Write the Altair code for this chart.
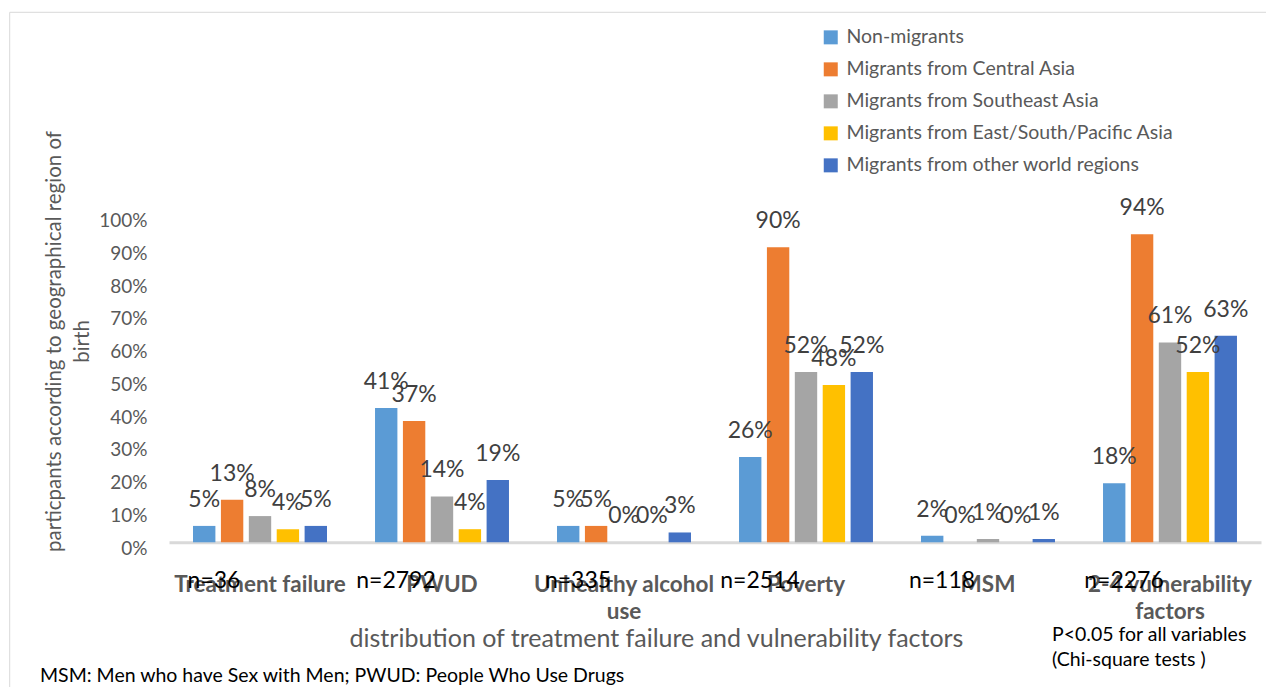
import altair as alt
import pandas as pd

# ---------------- data ----------------
categories = ["Treatment failure", "PWUD", "Unhealthy alcohol use", "Poverty", "MSM",
              "2-4 vulnerability factors"]
regions = ["Non-migrants", "Migrants from Central Asia", "Migrants from Southeast Asia",
           "Migrants from East/South/Pacific Asia", "Migrants from other world regions"]
non_migrants = [0.05, 0.41, 0.05, 0.26, 0.02, 0.18]
central_asia = [0.13, 0.37, 0.05, 0.90, 0.00, 0.94]
southeast_asia = [0.08, 0.14, 0.00, 0.52, 0.01, 0.61]
east_south_pacific = [0.04, 0.04, 0.00, 0.48, 0.00, 0.52]
other_regions = [0.05, 0.19, 0.03, 0.52, 0.01, 0.63]
n_labels = ["n=36", "n=2792", "n=335", "n=2514", "n=118", "n=2276"]
y_ticks = [0, 0.1, 0.2, 0.3, 0.4, 0.5, 0.6, 0.7, 0.8, 0.9, 1.0]
colors = ["#5B9BD5", "#ED7D31", "#A5A5A5", "#FFC000", "#4472C4"]
y_title = ["particpants according to geographical region of", "birth"]
x_title = "distribution of treatment failure and vulnerability factors"
note_abbrev = "MSM: Men who have Sex with Men; PWUD: People Who Use Drugs"
note_p = "P<0.05 for all variables"
note_test = "(Chi-square tests )"

series = [non_migrants, central_asia, southeast_asia, east_south_pacific, other_regions]
rows = []
for reg, vals in zip(regions, series):
    for cat, v in zip(categories, vals):
        rows.append({"Category": cat, "Region": reg, "Value": v})
df = pd.DataFrame(rows)
df_n = pd.DataFrame({"Category": categories, "N": n_labels})

FONT = "Lato"
GREY_TXT = "#595959"

label_expr = ("datum.label == 'Unhealthy alcohol use' ? ['Unhealthy alcohol', 'use'] : "
              "datum.label == '2-4 vulnerability factors' ? ['2-4 vulnerability', 'factors'] : datum.label")

x_scale = alt.Scale(paddingInner=0.264, paddingOuter=0.132)
xo_scale = alt.Scale(paddingInner=0.198, paddingOuter=0)
y_scale = alt.Scale(domain=[0, 1], nice=False)

x_axis = alt.Axis(title=x_title, labelAngle=0, labelExpr=label_expr,
                  labelFontWeight="bold", labelFontSize=22.5, labelColor=GREY_TXT,
                  labelPadding=31, labelLineHeight=27, labelLimit=400, labelOverlap=False,
                  ticks=False, tickSize=0, domainColor="#D9D9D9", domainWidth=3,
                  titleFontSize=25, titleColor=GREY_TXT, titleFontWeight="normal",
                  titleX=487, titleY=96.5, titleAlign="center", titleBaseline="middle")
y_axis = alt.Axis(values=y_ticks, format=".0%", grid=False, domain=False, ticks=False,
                  labelOverlap=False,
                  labelFontSize=19, labelColor=GREY_TXT, labelPadding=22, labelOffset=6,
                  title=y_title, titleFontSize=20.5, titleColor=GREY_TXT,
                  titleFontWeight="normal", titleAngle=270, titleX=-124.5, titleY=126.4,
                  titleAlign="center", titleBaseline="top", titleLineHeight=28)

x_enc = alt.X("Category:N", sort=categories, scale=x_scale, axis=x_axis)
xo_enc = alt.XOffset("Region:N", sort=regions, scale=xo_scale)
y_enc = alt.Y("Value:Q", scale=y_scale, axis=y_axis)

bars = alt.Chart(df).mark_bar().encode(
    x=x_enc, xOffset=xo_enc, y=y_enc,
    color=alt.Color("Region:N", sort=regions,
                    scale=alt.Scale(domain=regions, range=colors),
                    legend=alt.Legend(title=None, orient="none", legendX=652, legendY=-187,
                                      symbolType="square", symbolSize=196, symbolStrokeWidth=0,
                                      labelFontSize=19.5, labelColor=GREY_TXT, labelOffset=6,
                                      rowPadding=11, labelLimit=500, padding=0, offset=0)),
)

value_labels = alt.Chart(df).mark_text(dy=-26, baseline="middle", fontSize=23, color="#404040").encode(
    x=x_enc, xOffset=xo_enc, y=y_enc,
    text=alt.Text("Value:Q", format=".0%"),
)

n_text = alt.Chart(df_n).mark_text(dx=-46, baseline="middle", fontSize=23, color="#000000").encode(
    x=x_enc,
    y=alt.value(366.4),
    text="N:N",
)

dummy = pd.DataFrame({"k": [0]})
frame_left = alt.Chart(dummy).mark_rule(color="#D9D9D9", strokeWidth=1).encode(
    x=alt.value(-159.3), y=alt.value(-202.3), y2=alt.value(500))
frame_top = alt.Chart(dummy).mark_rule(color="#D9D9D9", strokeWidth=1).encode(
    x=alt.value(-159.3), x2=alt.value(1200), y=alt.value(-202.3))


def note(txt, x, y):
    return alt.Chart(pd.DataFrame({"t": [txt]})).mark_text(
        align="left", baseline="middle", fontSize=19.5, color="#000000").encode(
        x=alt.value(x), y=alt.value(y), text="t:N")


chart = alt.layer(
    bars, value_labels, n_text, frame_left, frame_top,
    note(note_abbrev, -129, 461.4), note(note_p, 883, 420.4), note(note_test, 883, 445.4),
).properties(
    width=1092, height=327.7,
    autosize=alt.AutoSizeParams(type="none"),
    padding={"left": 161, "top": 206.6, "right": 5, "bottom": 145},
).configure(font=FONT).configure_view(stroke=None).configure_text(font=FONT)

chart.save("out.html", embed_options={"renderer": "svg", "actions": False})
